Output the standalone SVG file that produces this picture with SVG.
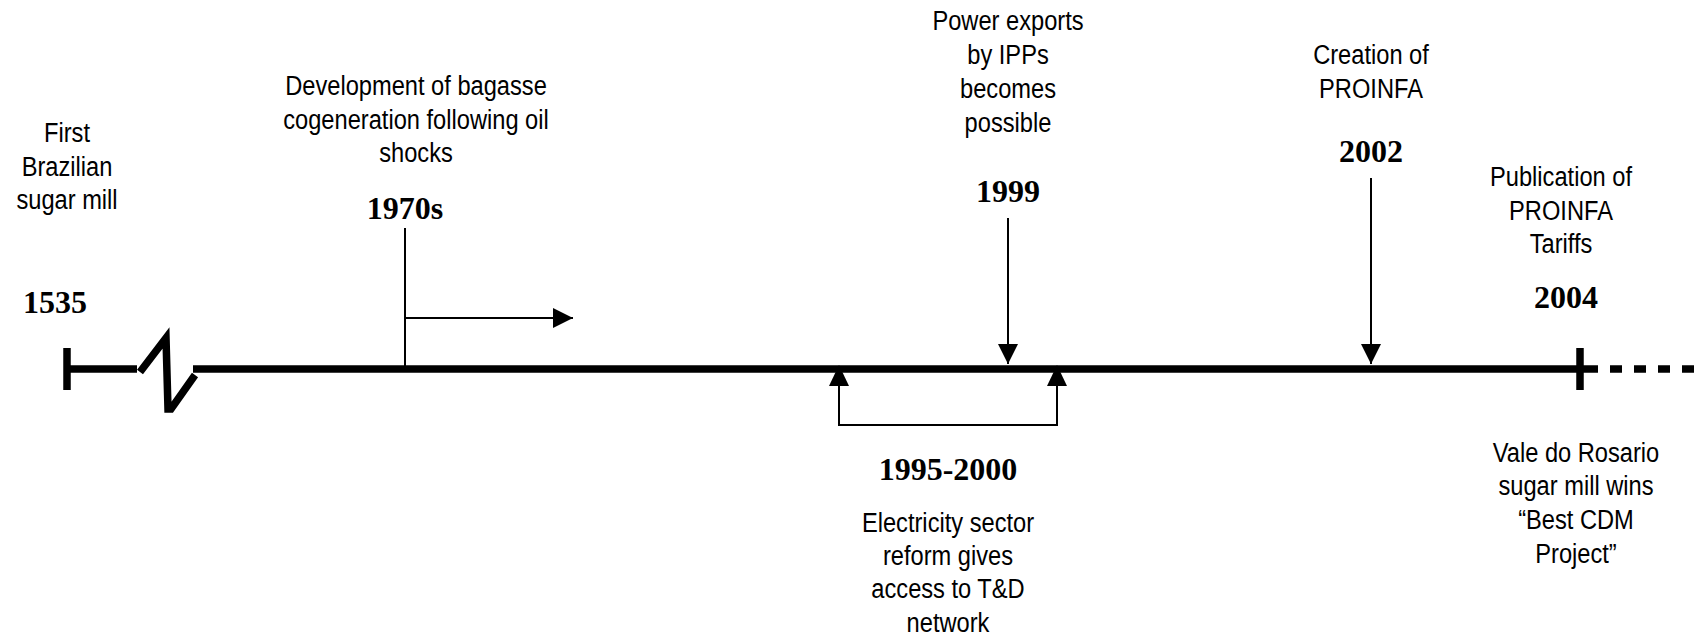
<svg xmlns="http://www.w3.org/2000/svg" width="1701" height="640" viewBox="0 0 1701 640">
<style>
.t{font-family:"Liberation Sans",Arial,sans-serif;font-size:28px;fill:#000;text-anchor:middle}
.y{font-family:"Liberation Serif","Times New Roman",serif;font-size:32px;font-weight:bold;fill:#000;text-anchor:middle}
.thin{stroke:#000;stroke-width:2;fill:none}
.thick{stroke:#000;stroke-width:7.5;fill:none}
</style>
<defs>
<marker id="ah" viewBox="0 0 20 20" refX="20" refY="10" markerWidth="20" markerHeight="20" markerUnits="userSpaceOnUse" orient="auto">
<path d="M0,0 L20,10 L0,20 Z" fill="#000"/>
</marker>
</defs>
<g id="connectors">
<line class="thick" x1="67" y1="369" x2="137" y2="369"/>
<line class="thick" x1="67" y1="348" x2="67" y2="390" stroke-width="6"/>
<polyline class="thick" points="140,372 166,338 168,409 171,409 195,375" stroke-width="7" stroke-linejoin="miter"/>
<line class="thick" x1="193" y1="369" x2="1598" y2="369"/>
<line class="thick" x1="1580" y1="348" x2="1580" y2="390" stroke-width="6"/>
<line class="thick" x1="1610" y1="369" x2="1701" y2="369" stroke-dasharray="12 12"/>
<line class="thin" x1="405" y1="228" x2="405" y2="369"/>
<line class="thin" x1="405" y1="318" x2="573" y2="318" marker-end="url(#ah)"/>
<line class="thin" x1="1008" y1="218" x2="1008" y2="364" marker-end="url(#ah)"/>
<line class="thin" x1="1371" y1="178" x2="1371" y2="364" marker-end="url(#ah)"/>
<polyline class="thin" points="839,366 839,425 1057,425 1057,366"/>
<path d="M829,386 L839,365 L849,386 Z" fill="#000"/>
<path d="M1047,386 L1057,365 L1067,386 Z" fill="#000"/>
</g>
<g id="n1535">
<g transform="translate(67,0) scale(0.845,1)"><text class="t"><tspan x="0" y="142">First</tspan><tspan x="0" y="176">Brazilian</tspan><tspan x="0" y="209">sugar mill</tspan></text></g>
<text class="y" x="55" y="313">1535</text>
</g>
<g id="n1970s">
<g transform="translate(416,0) scale(0.845,1)"><text class="t"><tspan x="0" y="95">Development of bagasse</tspan><tspan x="0" y="129">cogeneration following oil</tspan><tspan x="0" y="162">shocks</tspan></text></g>
<text class="y" x="405" y="219">1970s</text>
</g>
<g id="n1999">
<g transform="translate(1008,0) scale(0.845,1)"><text class="t"><tspan x="0" y="30">Power exports</tspan><tspan x="0" y="64">by IPPs</tspan><tspan x="0" y="98">becomes</tspan><tspan x="0" y="132">possible</tspan></text></g>
<text class="y" x="1008" y="202">1999</text>
</g>
<g id="n2002">
<g transform="translate(1371,0) scale(0.845,1)"><text class="t"><tspan x="0" y="64">Creation of</tspan><tspan x="0" y="98">PROINFA</tspan></text></g>
<text class="y" x="1371" y="162">2002</text>
</g>
<g id="n2004">
<g transform="translate(1561,0) scale(0.845,1)"><text class="t"><tspan x="0" y="186">Publication of</tspan><tspan x="0" y="220">PROINFA</tspan><tspan x="0" y="253">Tariffs</tspan></text></g>
<text class="y" x="1566" y="308">2004</text>
</g>
<g id="n1995">
<text class="y" x="948" y="480">1995-2000</text>
<g transform="translate(948,0) scale(0.845,1)"><text class="t"><tspan x="0" y="532">Electricity sector</tspan><tspan x="0" y="565">reform gives</tspan><tspan x="0" y="598">access to T&amp;D</tspan><tspan x="0" y="632">network</tspan></text></g>
</g>
<g id="nvale">
<g transform="translate(1576,0) scale(0.845,1)"><text class="t"><tspan x="0" y="462">Vale do Rosario</tspan><tspan x="0" y="495">sugar mill wins</tspan><tspan x="0" y="529">“Best CDM</tspan><tspan x="0" y="563">Project”</tspan></text></g>
</g>
</svg>
